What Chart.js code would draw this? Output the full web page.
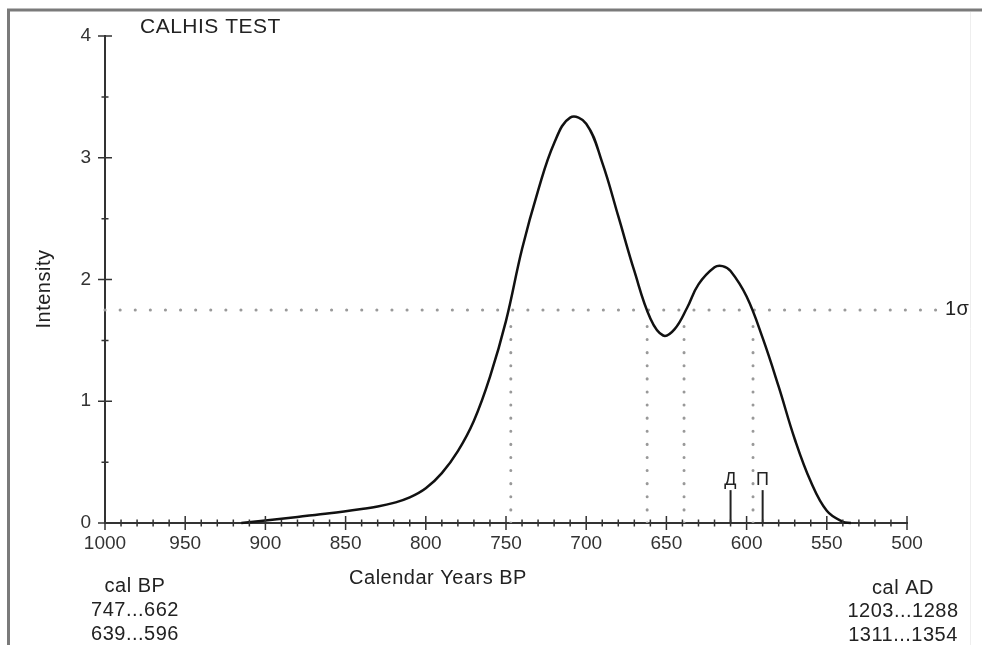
<!DOCTYPE html>
<html>
<head>
<meta charset="utf-8">
<script src="https://cdn.jsdelivr.net/npm/chart.js@4.4.1/dist/chart.umd.min.js"></script>
<style>
  body { margin: 0; background: #fff; }
  canvas { display: block; }
</style>
</head>
<body>
<canvas id="calChart" width="982" height="645"></canvas>
<script>
// calibrated probability curve
const years = [915, 900, 880, 860, 840, 830, 820, 810, 800, 790, 780, 770, 760, 750, 740, 730, 720, 710, 700, 690, 680, 670, 660, 652, 645, 637, 630, 620, 615, 610, 600, 590, 580, 570, 560, 550, 540, 535];
const intensity = [0, 0.02, 0.05, 0.08, 0.115, 0.135, 0.165, 0.21, 0.285, 0.41, 0.59, 0.84, 1.2, 1.66, 2.25, 2.73, 3.12, 3.33, 3.28, 2.96, 2.52, 2.07, 1.68, 1.54, 1.59, 1.77, 1.96, 2.1, 2.11, 2.07, 1.86, 1.52, 1.12, 0.69, 0.34, 0.1, 0.01, 0];

const sigmaLevel = 1.75;
const sigmaEnd = 479;
const sigmaBounds = [747, 662, 639, 596];

const markerYears = [610, 590];
const markerLabels = ["Д", "П"];
const markerHeight = 0.27;

const calBP = ["747...662", "639...596"];
const calAD = ["1203...1288", "1311...1354"];

const FONT = "'Liberation Sans', Arial, sans-serif";

const datasets = [{
    data: years.map((yr, i) => ({ x: yr, y: intensity[i] })),
    borderColor: "#111",
    borderWidth: 2.5,
    pointRadius: 0,
    tension: 0.4,
    clip: false
}];

// 1 sigma level
datasets.push({
    data: [{ x: 1000, y: sigmaLevel }, { x: sigmaEnd, y: sigmaLevel }],
    borderColor: "#999",
    borderWidth: 3,
    borderCapStyle: "round",
    borderDash: [0.1, 15],
    pointRadius: 0,
    clip: false
});

// range bounds
sigmaBounds.forEach(b => {
    datasets.push({
        data: [{ x: b, y: 0 }, { x: b, y: sigmaLevel - 0.1 }],
        borderColor: "#999",
        borderWidth: 3,
        borderCapStyle: "round",
        borderDash: [0.1, 13],
        pointRadius: 0
    });
});

// sample markers
markerYears.forEach(m => {
    datasets.push({
        data: [{ x: m, y: 0 }, { x: m, y: markerHeight }],
        borderColor: "#222",
        borderWidth: 2,
        pointRadius: 0
    });
});

const extras = {
    id: "extras",
    beforeDraw(chart) {
        const ctx = chart.ctx;
        ctx.save();
        ctx.fillStyle = "#fff";
        ctx.fillRect(0, 0, chart.width, chart.height);
        ctx.strokeStyle = "#7a7a7a";
        ctx.lineWidth = 3;
        ctx.beginPath();
        ctx.moveTo(8.5, 645);
        ctx.lineTo(8.5, 10);
        ctx.lineTo(982, 10);
        ctx.stroke();
        ctx.strokeStyle = "#eee";
        ctx.lineWidth = 1;
        ctx.beginPath();
        ctx.moveTo(970.5, 12);
        ctx.lineTo(970.5, 645);
        ctx.stroke();
        ctx.restore();
    },
    afterDraw(chart) {
        const ctx = chart.ctx;
        const x = chart.scales.x;
        const y = chart.scales.y;
        ctx.save();
        ctx.strokeStyle = "#333";
        ctx.lineWidth = 1.5;
        ctx.beginPath();
        for (let v = 500; v <= 1000; v += 10) {
            const px = x.getPixelForValue(v);
            const len = v % 50 === 0 ? 7 : 3.5;
            ctx.moveTo(px, y.bottom - len);
            ctx.lineTo(px, y.bottom + len);
        }
        for (let v = 0; v <= 4; v += 0.5) {
            const py = y.getPixelForValue(v);
            const len = v % 1 === 0 ? 7 : 3.5;
            ctx.moveTo(x.left - len, py);
            ctx.lineTo(x.left + len, py);
        }
        ctx.stroke();

        ctx.fillStyle = "#222";
        ctx.textBaseline = "middle";
        ctx.letterSpacing = "0.5px";

        ctx.font = "21px " + FONT;
        ctx.textAlign = "left";
        ctx.fillText("CALHIS TEST", 140, 27);

        ctx.font = "20px " + FONT;
        ctx.textAlign = "center";
        ctx.fillText("Calendar Years BP", 438, 578);

        ctx.fillText("cal BP", 135, 586);
        calBP.forEach((t, i) => ctx.fillText(t, 135, 610 + i * 24));
        ctx.fillText("cal AD", 903, 588);
        calAD.forEach((t, i) => ctx.fillText(t, 903, 611 + i * 24));

        ctx.textAlign = "left";
        ctx.fillText("1σ", 945, y.getPixelForValue(sigmaLevel));

        ctx.font = "18px " + FONT;
        ctx.textAlign = "center";
        markerYears.forEach((m, i) => {
            ctx.fillText(markerLabels[i], x.getPixelForValue(m), y.getPixelForValue(markerHeight) - 10);
        });

        ctx.save();
        ctx.translate(44, 289);
        ctx.rotate(-Math.PI / 2);
        ctx.font = "20px " + FONT;
        ctx.fillText("Intensity", 0, 0);
        ctx.restore();

        ctx.restore();
    }
};

new Chart(document.getElementById("calChart"), {
    type: "line",
    data: { datasets: datasets },
    plugins: [extras],
    options: {
        responsive: false,
        animation: false,
        layout: { padding: { left: 0, top: 36, right: 75, bottom: 0 } },
        plugins: {
            legend: { display: false },
            tooltip: { enabled: false }
        },
        scales: {
            x: {
                type: "linear",
                reverse: true,
                min: 500,
                max: 1000,
                afterFit: s => { s.height = 122; },
                border: { display: true, color: "#333", width: 2 },
                grid: { display: true, drawOnChartArea: false, drawTicks: false },
                ticks: {
                    stepSize: 50,
                    autoSkip: false,
                    maxRotation: 0,
                    padding: 9,
                    color: "#333",
                    font: { family: FONT, size: 19 },
                    callback: v => String(v)
                }
            },
            y: {
                min: 0,
                max: 4,
                afterFit: s => { s.width = 105; },
                border: { display: true, color: "#333", width: 2 },
                grid: { display: true, drawOnChartArea: false, drawTicks: false },
                ticks: {
                    stepSize: 1,
                    padding: 14,
                    color: "#333",
                    font: { family: FONT, size: 19 },
                    callback: v => String(v)
                }
            }
        }
    }
});
</script>
</body>
</html>
